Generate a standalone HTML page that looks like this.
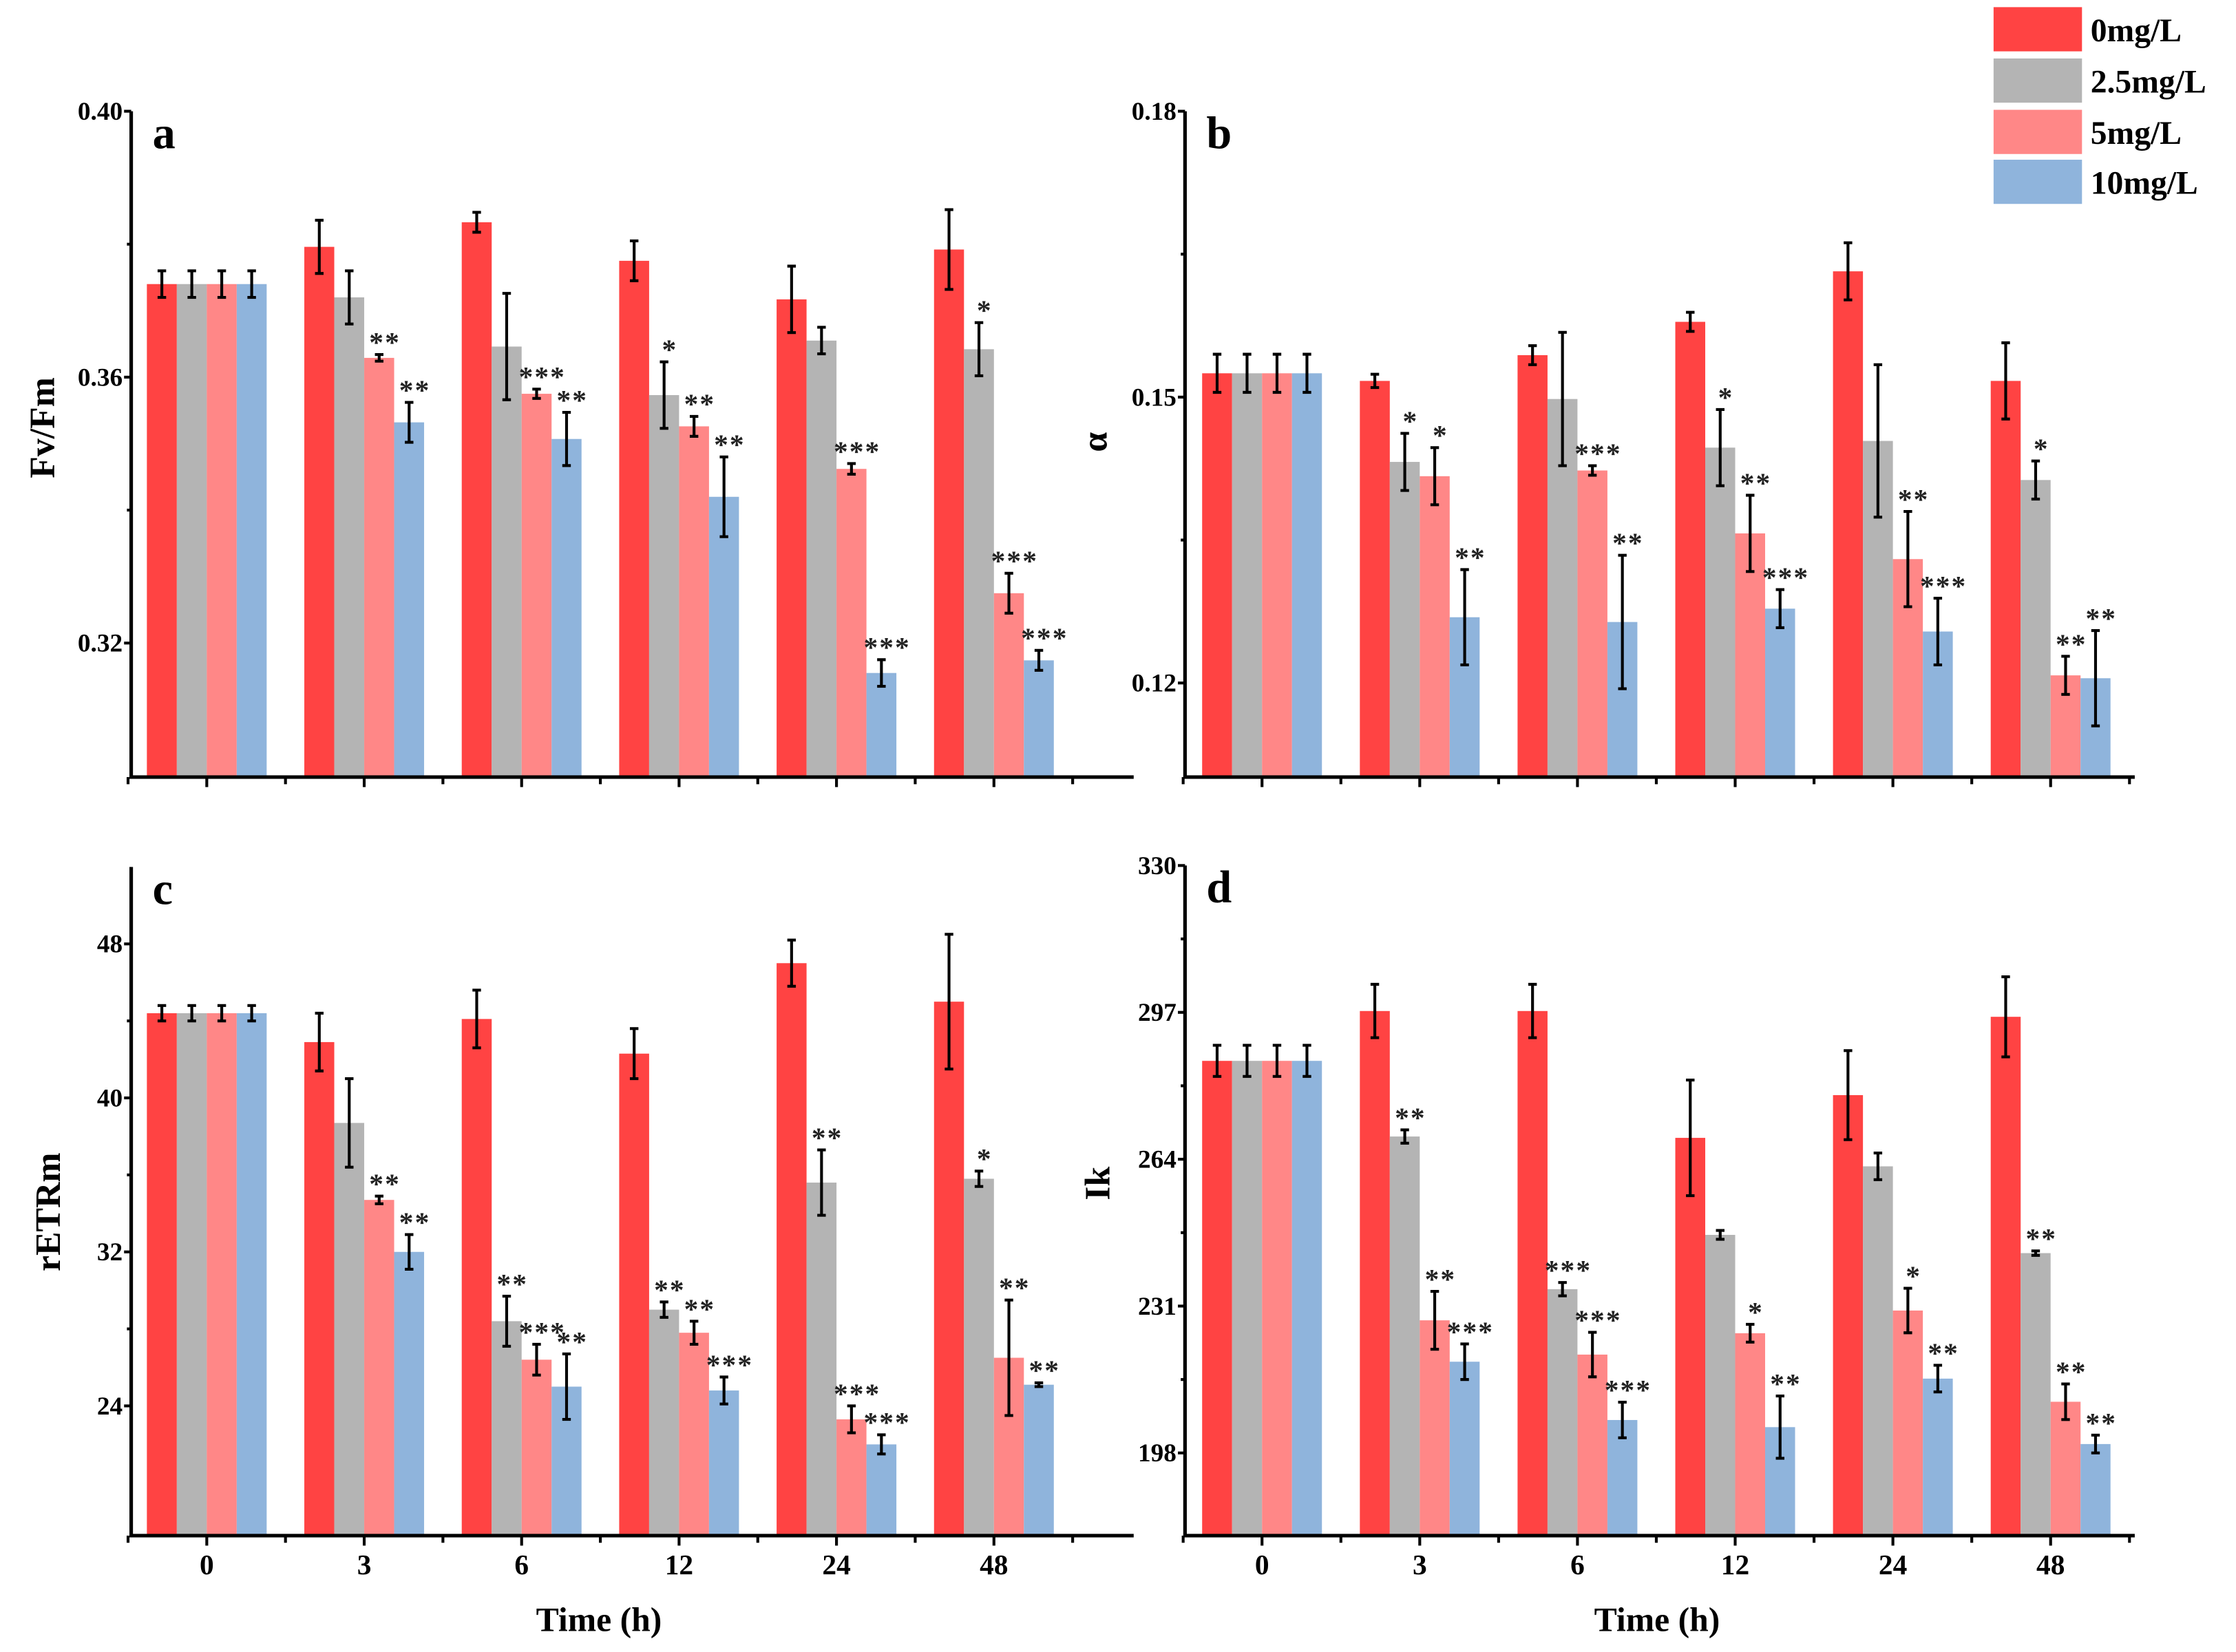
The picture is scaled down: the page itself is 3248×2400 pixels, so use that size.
<!DOCTYPE html>
<html><head><meta charset="utf-8"><style>
html,body{margin:0;padding:0;background:#fff;}
svg{display:block;font-family:"Liberation Serif",serif;}
</style></head><body>
<svg id="chart" width="3248" height="2400" viewBox="0 0 1568 1158.6" xmlns="http://www.w3.org/2000/svg"></svg>
<script>
const categories = ["0","3","6","12","24","48"];
const seriesNames = ["0mg/L","2.5mg/L","5mg/L","10mg/L"];
const colors = ["#ff4343","#b4b4b4","#ff8787","#8fb4dc"];

const fvfmValues = [[0.374,0.3796,0.3833,0.3775,0.3717,0.3792],[0.374,0.372,0.3646,0.3573,0.3655,0.3642],[0.374,0.3629,0.3575,0.3526,0.3462,0.3275],[0.374,0.3532,0.3507,0.342,0.3155,0.3174]];
const fvfmErr = [[0.002,0.004,0.0015,0.003,0.005,0.006],[0.002,0.004,0.008,0.005,0.002,0.004],[0.002,0.0005,0.0007,0.0015,0.0008,0.003],[0.002,0.003,0.004,0.006,0.002,0.0015]];
const fvfmStars = [["","","","","",""],["","","","*","","*"],["","**","***","**","***","***"],["","**","**","**","***","***"]];
const fvfmTicks = [0.32,0.36,0.40];

const alphaValues = [[0.1525,0.1517,0.1544,0.1579,0.1632,0.1517],[0.1525,0.1432,0.1498,0.1447,0.1454,0.1413],[0.1525,0.1417,0.1423,0.1357,0.1330,0.1208],[0.1525,0.1269,0.1264,0.1278,0.1254,0.1205]];
const alphaErr = [[0.002,0.0007,0.001,0.001,0.003,0.004],[0.002,0.003,0.007,0.004,0.008,0.002],[0.002,0.003,0.0005,0.004,0.005,0.002],[0.002,0.005,0.007,0.002,0.0035,0.005]];
const alphaStars = [["","","","","",""],["","*","","*","","*"],["","*","***","**","**","**"],["","**","**","***","***","**"]];
const alphaTicks = [0.12,0.15,0.18];

const etrValues = [[44.4,42.9,44.1,42.3,47.0,45.0],[44.4,38.7,28.4,29.0,35.6,35.8],[44.4,34.7,26.4,27.8,23.3,26.5],[44.4,32.0,25.0,24.8,22.0,25.1]];
const etrErr = [[0.4,1.5,1.5,1.3,1.2,3.5],[0.4,2.3,1.3,0.4,1.7,0.4],[0.4,0.2,0.8,0.6,0.7,3.0],[0.4,0.9,1.7,0.7,0.5,0.1]];
const etrStars = [["","","","","",""],["","","**","**","**","*"],["","**","***","**","***","**"],["","**","**","***","***","**"]];
const etrTicks = [24,32,40,48];

const ikValues = [[286.1,297.3,297.3,268.8,278.4,296.0],[286.1,269.1,234.8,247.0,262.4,242.9],[286.1,227.8,220.1,224.9,230.0,209.5],[286.1,218.5,205.4,203.8,214.7,200.0]];
const ikErr = [[3.5,6,6,13,10,9],[3.5,1.5,1.5,1,3,0.5],[3.5,6.5,5,2,5,4],[3.5,4,4,7,3,2]];
const ikStars = [["","","","","",""],["","**","***","","","**"],["","**","***","*","*","**"],["","***","***","**","**","**"]];
const ikTicks = [198,231,264,297,330];

const NS="http://www.w3.org/2000/svg";
const svg=document.getElementById('chart');
function mk(tag,attrs,parent){const e=document.createElementNS(NS,tag);for(const k in attrs)e.setAttribute(k,attrs[k]);(parent||svg).appendChild(e);return e;}

function panel(o){
  const g=mk('g',{});
  
  
  const y=v=>o.y1+(v-o.v1)/(o.v2-o.v1)*(o.y2-o.y1);
  const step=o.step, c0=o.c0;
  const cx=i=>c0+i*step;
  for(let s=0;s<4;s++){for(let i=0;i<6;i++){
    const v=o.vals[s][i], e=o.err[s][i];
    const bx=cx(i)-42+s*21, yt=y(v);
    const r=mk('rect',{x:bx,y:yt,width:21,height:o.yBot-yt,fill:colors[s]},g);
    
    
    const mx=bx+10.5, ya=y(v+e), yb=y(v-e);
    const eb=mk('path',{d:`M${mx},${ya}V${yb}M${mx-3},${ya}H${mx+3}M${mx-3},${yb}H${mx+3}`,stroke:'#000','stroke-width':2,fill:'none'},g);
    
    
    const st=o.stars[s][i];
    if(st){const t=mk('text',{x:mx+4,y:ya-2,'text-anchor':'middle','font-size':20,'font-weight':'bold','letter-spacing':'1',fill:'#222'},g);t.textContent=st;
      
      }
  }}
  const ax=mk('path',{d:`M${o.x0},${o.yTop}V${o.yBot}H${o.xR}`,stroke:'#000','stroke-width':2.5,fill:'none'},g);
  
  
  for(let i=0;i<=6;i++){const xx=c0-step/2+i*step;mk('line',{x1:xx,x2:xx,y1:o.yBot,y2:o.yBot+5,stroke:'#000','stroke-width':2},g);}
  for(let i=0;i<6;i++){mk('line',{x1:cx(i),x2:cx(i),y1:o.yBot,y2:o.yBot+7,stroke:'#000','stroke-width':2},g);
    if(o.xlabels){const t=mk('text',{x:cx(i),y:o.yBot+27,'text-anchor':'middle','font-size':20,'font-weight':'bold'},g);t.textContent=categories[i];
      
      }}
  o.ticks.forEach((tv,k)=>{const yy=y(tv);
    mk('line',{x1:o.x0-5,x2:o.x0,y1:yy,y2:yy,stroke:'#000','stroke-width':2},g);
    const t=mk('text',{x:o.x0-6,y:yy+6,'text-anchor':'end','font-size':18,'font-weight':'bold'},g);t.textContent=o.fmt(tv);
    
    
    if(k<o.ticks.length-1){const ym=y((tv+o.ticks[k+1])/2);mk('line',{x1:o.x0-3,x2:o.x0,y1:ym,y2:ym,stroke:'#000','stroke-width':2},g);}
  });
  const L=mk('text',{x:o.x0+15,y:o.yTop+26,'font-size':32,'font-weight':'bold'},g);L.textContent=o.letter;
  
  
  const yl=mk('text',{x:0,y:0,transform:`translate(${o.ylx},${o.yly}) rotate(-90)`,'text-anchor':'middle','font-size':25,'font-weight':'bold'},g);yl.textContent=o.ylabel;
  
  
  if(o.xlabels){const xl=mk('text',{x:o.xlx,y:1144,'text-anchor':'middle','font-size':24,'font-weight':'bold'},g);xl.textContent='Time (h)';
    
    }
}

panel({letter:'a',x0:92,xR:795,c0:145,step:110.4,yTop:78,yBot:545,v1:0.40,y1:78,v2:0.32,y2:451,vals:fvfmValues,err:fvfmErr,stars:fvfmStars,ticks:fvfmTicks,fmt:v=>v.toFixed(2),ylabel:'Fv/Fm',ylx:38,yly:300,xlabels:false});
panel({letter:'b',x0:831,xR:1497,c0:885,step:110.6,yTop:78,yBot:545,v1:0.18,y1:78,v2:0.12,y2:479,vals:alphaValues,err:alphaErr,stars:alphaStars,ticks:alphaTicks,fmt:v=>v.toFixed(2),ylabel:'α',ylx:776,yly:310,xlabels:false});
panel({letter:'c',x0:92,xR:795,c0:145,step:110.4,yTop:608,yBot:1077,v1:48,y1:662,v2:24,y2:986,vals:etrValues,err:etrErr,stars:etrStars,ticks:etrTicks,fmt:v=>String(v),ylabel:'rETRm',ylx:42,yly:850,xlabels:true,xlx:420});
panel({letter:'d',x0:831,xR:1497,c0:885,step:110.6,yTop:607,yBot:1077,v1:330,y1:607,v2:198,y2:1019,vals:ikValues,err:ikErr,stars:ikStars,ticks:ikTicks,fmt:v=>String(v),ylabel:'Ik',ylx:778,yly:830,xlabels:true,xlx:1162});

const lg=mk('g',{});


const ly=[5,41,77,112];
seriesNames.forEach((n,i)=>{
  const r=mk('rect',{x:1398,y:ly[i],width:62,height:31,fill:colors[i]},lg);
  
  
  const t=mk('text',{x:1466,y:ly[i]+24,'font-size':23,'font-weight':'bold'},lg);t.textContent=n;
  
  
});
</script>
</body></html>
